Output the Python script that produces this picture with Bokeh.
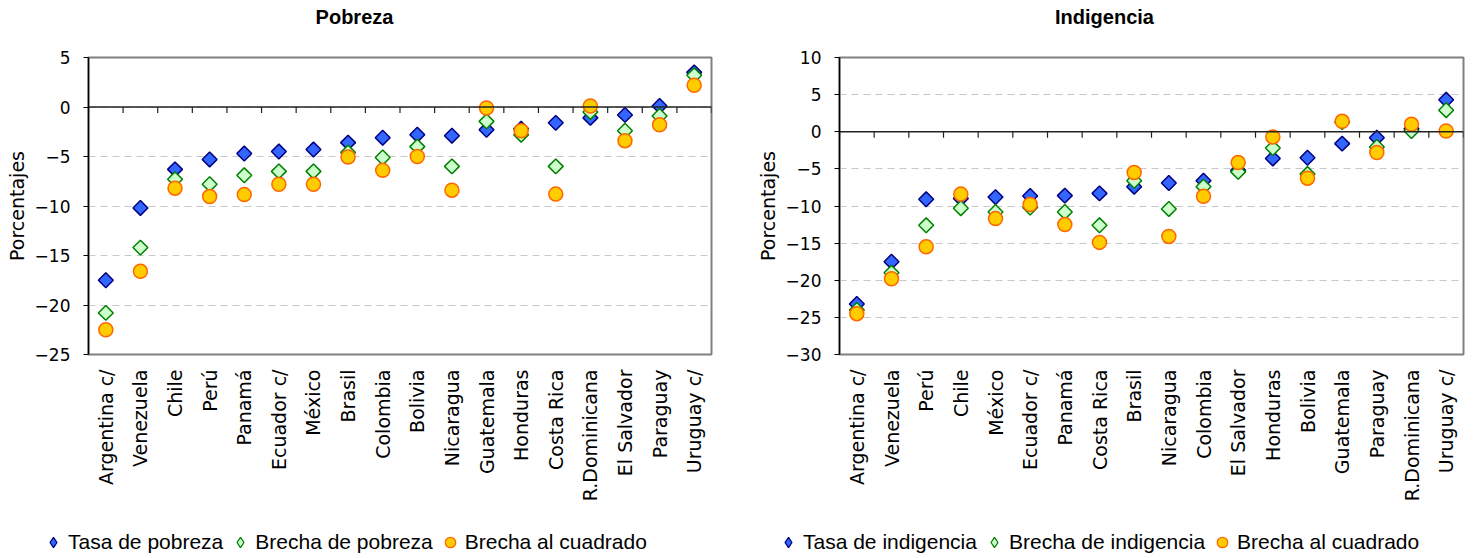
import numpy as np
from bokeh.plotting import figure
from bokeh.layouts import row, column
from bokeh.models import (FactorRange, Range1d, ColumnDataSource, Legend, LegendItem,
                          Span, FixedTicker, Label)
from bokeh.embed import file_html
from bokeh.resources import INLINE

# ---------------- data ----------------
countries_p = ["Argentina c/", "Venezuela", "Chile", "Perú", "Panamá", "Ecuador c/", "México",
               "Brasil", "Colombia", "Bolivia", "Nicaragua", "Guatemala", "Honduras",
               "Costa Rica", "R.Dominicana", "El Salvador", "Paraguay", "Uruguay c/"]
tasa_p = [-17.5, -10.2, -6.3, -5.3, -4.7, -4.5, -4.3, -3.6, -3.1, -2.8, -2.9, -2.3, -2.2,
          -1.6, -1.1, -0.8, 0.1, 3.5]
brecha_p = [-20.8, -14.2, -7.3, -7.8, -6.9, -6.5, -6.5, -4.6, -5.1, -4.0, -6.0, -1.45, -2.8,
            -6.0, -0.5, -2.4, -0.9, 3.2]
cuad_p = [-22.5, -16.6, -8.2, -9.05, -8.85, -7.8, -7.8, -5.05, -6.4, -5.0, -8.4, -0.1, -2.4,
          -8.8, 0.1, -3.4, -1.8, 2.2]
ticks_p = [-25, -20, -15, -10, -5, 0, 5]
labels_p = ["Tasa de pobreza", "Brecha de pobreza", "Brecha al cuadrado"]

countries_i = ["Argentina c/", "Venezuela", "Perú", "Chile", "México", "Ecuador c/", "Panamá",
               "Costa Rica", "Brasil", "Nicaragua", "Colombia", "El Salvador", "Honduras",
               "Bolivia", "Guatemala", "Paraguay", "R.Dominicana", "Uruguay c/"]
tasa_i = [-23.2, -17.5, -9.1, -9.0, -8.8, -8.65, -8.6, -8.3, -7.4, -6.9, -6.6, -5.2, -3.6,
          -3.5, -1.6, -0.8, 0.4, 4.3]
brecha_i = [-24.0, -19.0, -12.6, -10.3, -10.8, -10.2, -10.8, -12.6, -6.6, -10.4, -7.4, -5.4,
            -2.2, -5.7, 1.3, -2.05, 0.1, 2.9]
cuad_i = [-24.5, -19.8, -15.5, -8.4, -11.7, -9.8, -12.5, -14.9, -5.5, -14.1, -8.7, -4.15,
          -0.7, -6.25, 1.4, -2.8, 1.0, 0.1]
ticks_i = [-30, -25, -20, -15, -10, -5, 0, 5, 10]
labels_i = ["Tasa de indigencia", "Brecha de indigencia", "Brecha al cuadrado"]

titles = ["Pobreza", "Indigencia"]

TICK_FONT = "DejaVu Sans"
TEXT_FONT = "Liberation Sans"
TH = 30            # title strip height
FH = 498           # chart height
LH = 28            # legend strip height
BT, BB = 27, 174
W1, W2 = 729, 737

STYLE = [
    dict(marker="square", angle=np.pi / 4, size=10.5, fill_color="#3366FF",
         line_color="#000080", line_width=1.5),
    dict(marker="square", angle=np.pi / 4, size=10.5, fill_color="#CCFFCC",
         line_color="#008000", line_width=1.5),
    dict(marker="circle", size=14, fill_color="#FFCC00", line_color="#FF6600", line_width=1.5),
]
LEG_STYLE = [
    dict(marker="diamond", fill_color="#3366FF", line_color="#000080", line_width=1.3),
    dict(marker="diamond", fill_color="#CCFFCC", line_color="#008000", line_width=1.3),
    dict(marker="circle", fill_color="#FFCC00", line_color="#FF6600", line_width=1.3),
]


def make_fig(countries, tasa, brecha, cuad, ticks, fig_w, min_left, min_right):
    p = figure(x_range=FactorRange(factors=countries),
               y_range=Range1d(ticks[0], ticks[-1]),
               width=fig_w, height=FH, output_backend="svg", toolbar_location=None,
               min_border_left=min_left, min_border_right=min_right,
               min_border_top=BT, min_border_bottom=BB,
               background_fill_color="white", border_fill_color="white")
    frame_h = FH - BT - BB
    px_per_unit = frame_h / (ticks[-1] - ticks[0])

    p.outline_line_color = "#808080"
    p.outline_line_width = 2
    p.xgrid.visible = False
    p.ygrid.grid_line_color = "#C8C8C8"
    p.ygrid.grid_line_dash = "7 5"
    p.ygrid.grid_line_width = 1
    p.ygrid.ticker = FixedTicker(ticks=ticks)

    ya = p.yaxis[0]
    ya.ticker = FixedTicker(ticks=ticks)
    ya.axis_line_color = "black"
    ya.axis_line_width = 1.5
    ya.major_tick_line_color = "black"
    ya.major_tick_out = 5
    ya.major_tick_in = 0
    ya.minor_tick_line_color = None
    ya.major_label_text_font = TICK_FONT
    ya.major_label_text_font_size = "17px"
    ya.major_label_text_color = "black"
    ya.major_label_standoff = 13
    ya.axis_label = "Porcentajes"
    ya.axis_label_text_font = TICK_FONT
    ya.axis_label_text_font_size = "19px"
    ya.axis_label_text_font_style = "normal"
    ya.axis_label_text_color = "black"
    ya.axis_label_standoff = 4

    xa = p.xaxis[0]
    xa.axis_line_color = None
    xa.major_tick_line_color = None
    xa.minor_tick_line_color = None
    xa.major_label_orientation = np.pi / 2
    xa.major_label_text_font = TICK_FONT
    xa.major_label_text_font_size = "19px"
    xa.major_label_text_color = "black"
    xa.major_label_standoff = 9

    p.add_layout(Span(location=0, dimension="width", line_color="#222222", line_width=1.5))
    bounds = list(range(len(countries) + 1))
    tick_len = 6.0 / px_per_unit
    p.segment(x0=bounds, y0=[0] * len(bounds), x1=bounds, y1=[-tick_len] * len(bounds),
              line_color="#222222", line_width=1.2)

    src = ColumnDataSource(dict(x=countries, tasa=tasa, brecha=brecha, cuad=cuad))
    for col, st in zip(["tasa", "brecha", "cuad"], STYLE):
        p.scatter("x", col, source=src, **st)
    return p


p1 = make_fig(countries_p, tasa_p, brecha_p, cuad_p, ticks_p, W1, 88, 18)
p2 = make_fig(countries_i, tasa_i, brecha_i, cuad_i, ticks_i, W2, 110, 3)


def strip(h, **kw):
    f = figure(width=W1 + W2, height=h, output_backend="svg", toolbar_location=None,
               x_axis_type=None, y_axis_type=None, min_border=0, outline_line_color=None,
               background_fill_color="white", border_fill_color="white", **kw)
    f.xgrid.visible = False
    f.ygrid.visible = False
    return f


# title strip
tf = strip(TH, x_range=Range1d(0, 1), y_range=Range1d(0, 1))
for txt, cx in zip(titles, [354, 1104]):
    tf.add_layout(Label(x=cx, y=TH - 16, x_units="screen", y_units="screen", text=txt,
                        text_font=TEXT_FONT, text_font_size="20px", text_font_style="bold",
                        text_color="black", text_align="center", text_baseline="middle"))

# legend strip (its series lie outside its view; only the legend keys show)
lf = strip(LH, x_range=FactorRange(factors=countries_p), y_range=Range1d(1000, 1001))


def add_legend(countries, series, labels, loc):
    items = []
    for vals, lab, st in zip(series, labels, LEG_STYLE):
        r = lf.scatter(x=countries, y=vals, **st)
        items.append(LegendItem(label=lab, renderers=[r]))
    lg = Legend(items=items, orientation="horizontal", location=loc,
                label_text_font=TEXT_FONT, label_text_font_size="21px",
                label_text_color="black",
                glyph_width=26, glyph_height=26, label_height=20,
                label_standoff=2, spacing=4, padding=0, margin=0,
                border_line_color=None, background_fill_alpha=0)
    lf.add_layout(lg)


add_legend(countries_p, [tasa_p, brecha_p, cuad_p], labels_p, (40, 1))
add_legend(countries_i, [tasa_i, brecha_i, cuad_i], labels_i, (775, 1))

layout = column(tf, row(p1, p2), lf)
open("out.html", "w").write(file_html(layout, INLINE))
